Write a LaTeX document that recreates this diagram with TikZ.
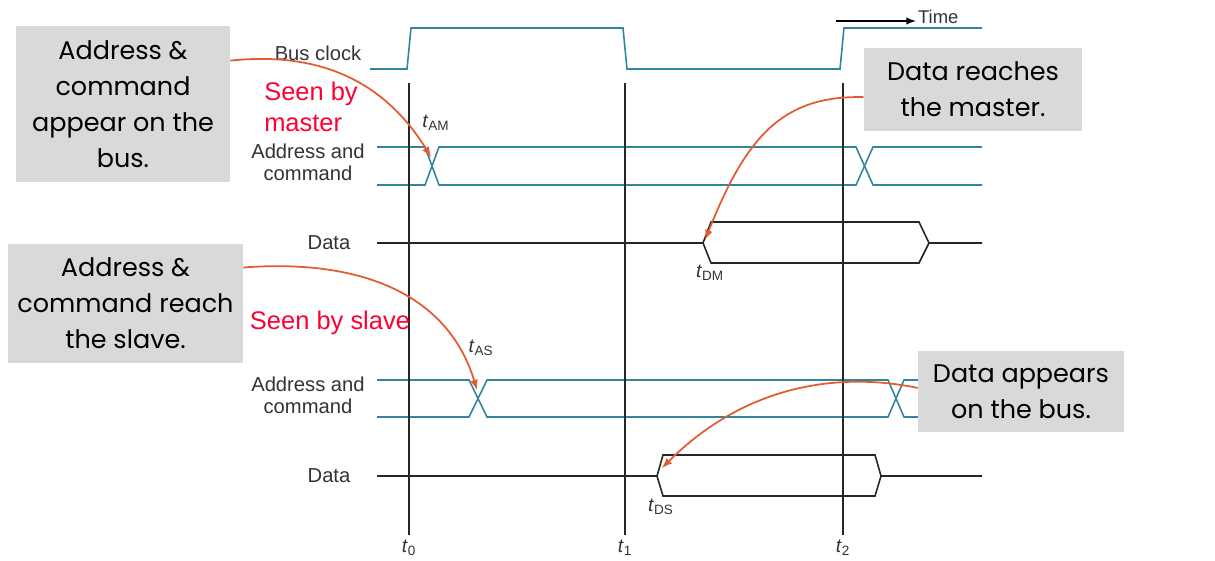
\documentclass[tikz,border=0pt]{standalone}
\usepackage{fontspec}
\setmainfont{Liberation Sans}
\newfontfamily\notefont{Poppins}
\usetikzlibrary{arrows.meta}
\definecolor{wire}{RGB}{49,133,156}
\definecolor{notegray}{RGB}{217,217,217}
\definecolor{pointer}{RGB}{226,92,48}
\definecolor{seen}{RGB}{255,0,51}

\begin{document}
\begin{tikzpicture}
    [
    x=0.02cm, y=-0.02cm,
    wave/.style={draw=wire,line width=0.9pt},
    bus/.style={draw=black!85,line width=0.9pt},
    tick/.style={draw=black!85,line width=0.9pt},
    signame/.style={align=center,font=\fontsize{11.5}{12.5}\selectfont,text=black!80},
    stamp/.style={font=\fontsize{11}{12}\selectfont,text=black!80,inner sep=1pt},
    note/.style={fill=notegray,align=center,inner sep=0pt,font=\notefont\fontsize{14.5}{20.5}\selectfont},
    seenby/.style={align=left,text=seen,font=\fontsize{14.5}{18}\selectfont},
    pointer/.style={draw=pointer,line width=1pt,-latex}
    ]
    \useasboundingbox (0,0) rectangle (1215,561);
    \node (clk) at (318,53) [signame] {Bus clock};
    \node (amlab) at (308,162) [signame] {Address and\\command};
    \node (dmlab) at (329,243) [signame] {Data};
    \node (aslab) at (308,395) [signame] {Address and\\command};
    \node (dslab) at (329,476) [signame] {Data};
    \node (tam) at (436,123) [stamp] {\textit{t}\textsubscript{AM}};
    \node (tdm) at (710,273) [stamp] {\textit{t}\textsubscript{DM}};
    \node (tas) at (481,348) [stamp] {\textit{t}\textsubscript{AS}};
    \node (tds) at (661,507) [stamp] {\textit{t}\textsubscript{DS}};
    \node (t0) at (409,548) [stamp] {\textit{t}\textsubscript{0}};
    \node (t1) at (625,548) [stamp] {\textit{t}\textsubscript{1}};
    \node (t2) at (843,548) [stamp] {\textit{t}\textsubscript{2}};
    \node (time) at (916,17) [stamp,anchor=west,font=\fontsize{10.5}{12}\selectfont] {Time};
    \coordinate (tstart) at (836,21);
    \draw [-latex,line width=0.9pt] (tstart) to (time.west |- tstart);
    \draw [wave] (370,69) -- (407,69) -- (411,28) -- (623,28) -- (627,69) -- (840,69) -- (844,28) -- (982,28);
    \draw [wave] (377,147) -- (425,147) -- (439,185) -- (856,185) -- (873,147) -- (982,147);
    \draw [wave] (377,185) -- (425,185) -- (439,147) -- (856,147) -- (873,185) -- (982,185);
    \draw [bus] (377,243) -- (703,243) -- (711,222) -- (919,222) -- (929,243) -- (982,243);
    \draw [bus] (703,243) -- (711,263) -- (919,263) -- (929,243);
    \draw [wave] (377,380) -- (469,380) -- (487,417) -- (888,417) -- (904,380) -- (918,380);
    \draw [wave] (377,417) -- (469,417) -- (487,380) -- (888,380) -- (904,417) -- (918,417);
    \draw [bus] (377,476) -- (657,476) -- (663,455) -- (875,455) -- (881,476) -- (982,476);
    \draw [bus] (657,476) -- (663,496) -- (875,496) -- (881,476);
    \draw [tick] (409,83) -- (409,535);
    \draw [tick] (625,83) -- (625,535);
    \draw [tick] (843,83) -- (843,535);
    \node (seenm) at (311,107) [seenby] {Seen by\\master};
    \node (seens) at (330,323) [seenby] {Seen by slave};
    \node (appear) at (123,104) [note,minimum width=4.28cm,minimum height=3.12cm] {Address \&\\command\\appear on the\\bus.};
    \node (reach) at (125.5,303.5) [note,minimum width=4.7cm,minimum height=2.38cm] {Address \&\\command reach\\the slave.};
    \node (master) at (973,89.5) [note,minimum width=4.36cm,minimum height=1.66cm] {Data reaches\\the master.};
    \node (onbus) at (1021,391.5) [note,minimum width=4.12cm,minimum height=1.62cm] {Data appears\\on the bus.};
    \coordinate (xam) at (431,157);
    \coordinate (xas) at (477,390);
    \coordinate (xdm) at (705,240);
    \coordinate (xds) at (662,468);
    \draw [pointer] (appear.22) .. controls (330,50) and (390,90) .. (xam);
    \draw [pointer] (reach.17) .. controls (370,258) and (450,300) .. (xas);
    \draw [pointer] (master.184) .. controls (780,95) and (745,140) .. (xdm);
    \draw [pointer] (onbus.178) .. controls (830,370) and (740,390) .. (xds);
\end{tikzpicture}
\end{document}
